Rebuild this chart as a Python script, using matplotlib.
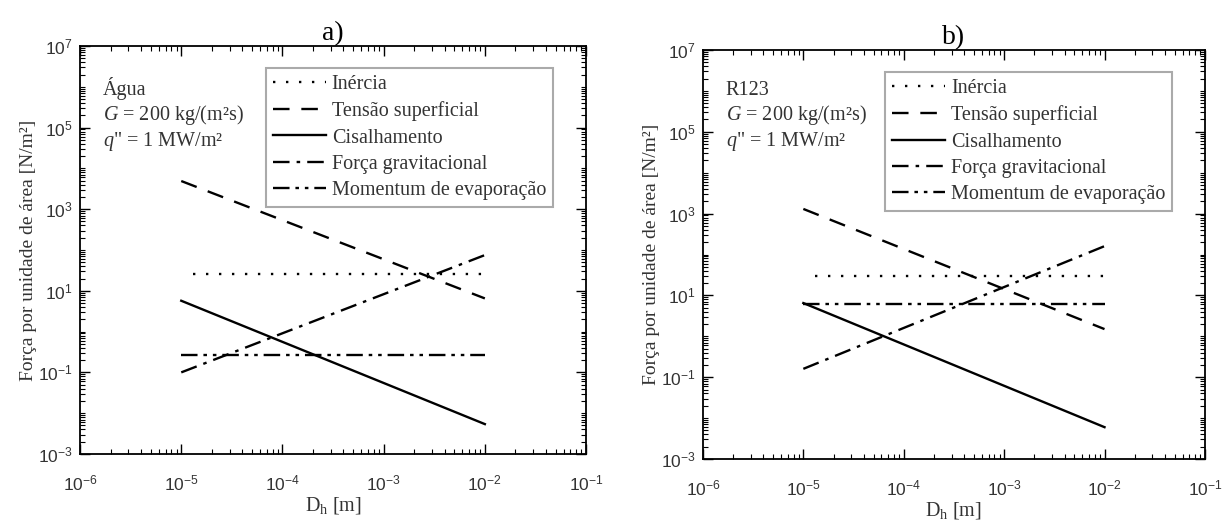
import matplotlib.pyplot as plt
import numpy as np
from matplotlib.ticker import LogLocator, NullFormatter

# diametro hidraulico (extremos das retas)
dh = [1e-5, 1e-2]
dh_inercia = [1.3e-5, 1e-2]

# a) Agua
a_inercia = [26, 26]
a_tensao = [4900, 6.5]
a_cisalh = [5.7, 0.0054]
a_grav = [0.1, 75]
a_evap = [0.26, 0.26]

# b) R123
b_inercia = [30, 30]
b_tensao = [1300, 1.5]
b_cisalh = [6.5, 0.006]
b_grav = [0.16, 160]
b_evap = [6.0, 6.0]

labels = ['Inércia', 'Tensão superficial', 'Cisalhamento',
          'Força gravitacional', 'Momentum de evaporação']
styles = [(0, (1, 4.5)), (0, (7, 5)), '-', (0, (7, 3, 1.5, 3)),
          (0, (7, 2.5, 1.5, 2.5, 1.5, 2.5))]

serif = 'Liberation Serif'
plt.rcParams['font.family'] = serif
plt.rcParams['mathtext.fontset'] = 'custom'
plt.rcParams['mathtext.rm'] = serif
plt.rcParams['mathtext.it'] = serif + ':italic'

fig = plt.figure(figsize=(12.24, 5.22), dpi=100)
ax_a = fig.add_axes([0.0654, 0.1303, 0.4134, 0.7816])
ax_b = fig.add_axes([0.5743, 0.1207, 0.4101, 0.7835])


def painel(ax, series, fluido, titulo):
    xs = [dh_inercia, dh, dh, dh, dh]
    for x, y, lab, ls in zip(xs, series, labels, styles):
        ax.plot(x, y, color='black', lw=1.7, ls=ls, label=lab)
    ax.set_xscale('log')
    ax.set_yscale('log')
    ax.set_xlim(1e-6, 1e-1)
    ax.set_ylim(1e-3, 1e7)
    ax.set_xticks([1e-6, 1e-5, 1e-4, 1e-3, 1e-2, 1e-1])
    ax.set_yticks([1e-3, 1e-1, 1e1, 1e3, 1e5, 1e7])
    ax.xaxis.set_minor_locator(LogLocator(base=10, subs=np.arange(2, 10), numticks=20))
    ax.yaxis.set_minor_locator(LogLocator(base=10, subs=np.arange(1, 10), numticks=30))
    ax.xaxis.set_minor_formatter(NullFormatter())
    ax.yaxis.set_minor_formatter(NullFormatter())
    ax.tick_params(which='both', direction='in', top=True, right=True)
    ax.tick_params(which='major', length=7, width=1)
    ax.tick_params(which='minor', length=3.5, width=0.8)
    ax.tick_params(axis='x', which='major', pad=14)
    ax.tick_params(axis='y', which='major', pad=5)
    for lab in ax.get_xticklabels() + ax.get_yticklabels():
        lab.set_fontfamily('Liberation Sans')
        lab.set_fontsize(12.5)
        lab.set_color('#333333')
    for sp in ax.spines.values():
        sp.set_linewidth(1.3)
    ax.set_xlabel(r'D$_{\mathrm{h}}$ [m]', fontsize=14.5, color='#333333', labelpad=1)
    ax.set_ylabel('Força por unidade de área [N/m²]', fontsize=14,
                  color='#333333', labelpad=1)
    ax.set_title(titulo, fontsize=20, pad=1)
    ax.text(0.045, 0.925, fluido + '\n' + r'$G$ = 200 kg/(m²s)' + '\n' +
            r'$q$" = 1 MW/m²', transform=ax.transAxes, fontsize=14.5,
            va='top', ha='left', color='#333333', linespacing=1.2)
    leg = ax.legend(loc='upper right', bbox_to_anchor=(0.955, 0.97), fontsize=14.5,
                    handlelength=2.6, handletextpad=0.3, labelspacing=0.35,
                    borderpad=0.35, fancybox=False, framealpha=1,
                    edgecolor='#aaaaaa')
    leg.get_frame().set_linewidth(1.5)
    for t in leg.get_texts():
        t.set_color('#333333')


painel(ax_a, [a_inercia, a_tensao, a_cisalh, a_grav, a_evap], 'Água', 'a)')
painel(ax_b, [b_inercia, b_tensao, b_cisalh, b_grav, b_evap], 'R123', 'b)')

fig.savefig('out.png', dpi=100)
